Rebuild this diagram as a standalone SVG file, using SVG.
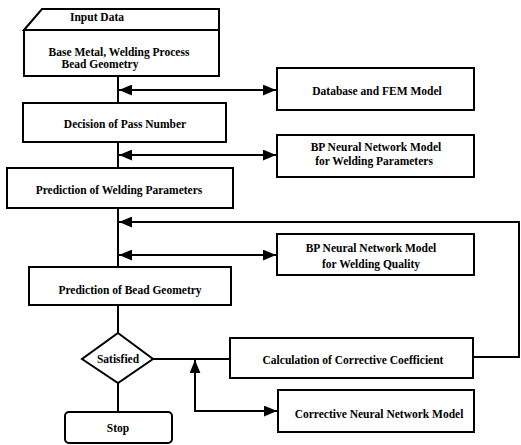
<svg xmlns="http://www.w3.org/2000/svg" width="521" height="445" viewBox="0 0 521 445">
<style>
.box{fill:#fff;stroke:#000;stroke-width:2}
.ln{fill:none;stroke:#000;stroke-width:2}
.t{font-weight:bold;font-size:11.5px;fill:#000;text-anchor:middle;dominant-baseline:central}
</style>
<defs>
<marker id="ah" viewBox="0 0 12 10" refX="12" refY="5" markerWidth="6.5" markerHeight="5.5" orient="auto-start-reverse" markerUnits="strokeWidth">
<path d="M0,0 L12,5 L0,10 z" fill="#000"/>
</marker>
</defs>
<rect width="521" height="445" fill="#fff"/>
<g id="connectors">
<line class="ln" x1="118" y1="76" x2="118" y2="103"/>
<line class="ln" x1="118" y1="142" x2="118" y2="168"/>
<line class="ln" x1="118" y1="208" x2="118" y2="267"/>
<line class="ln" x1="118" y1="305" x2="118" y2="333"/>
<line class="ln" x1="118" y1="383" x2="118" y2="412"/>
<line class="ln" x1="119" y1="90" x2="276" y2="90" marker-start="url(#ah)" marker-end="url(#ah)"/>
<line class="ln" x1="119" y1="155" x2="276" y2="155" marker-start="url(#ah)" marker-end="url(#ah)"/>
<line class="ln" x1="119" y1="255" x2="276" y2="255" marker-start="url(#ah)" marker-end="url(#ah)"/>
<polyline class="ln" points="473,357 519,357 519,222 119,222" marker-end="url(#ah)"/>
<line class="ln" x1="153" y1="359" x2="230" y2="359"/>
<polyline class="ln" points="195,360 195,411 277,411" marker-start="url(#ah)" marker-end="url(#ah)"/>
</g>
<g font-family="Liberation Serif, Times New Roman, serif">
<g id="input">
<path class="box" d="M24,30 L42,9 L219,9 L219,30 Z"/>
<text class="t" x="97" y="17" font-size="10.5">Input Data</text>
</g>
<g id="base">
<rect class="box" x="24" y="30" width="195" height="46"/>
<text class="t" x="119" y="52">Base Metal, Welding Process</text>
<text class="t" x="100" y="64">Bead Geometry</text>
</g>
<g id="database">
<rect class="box" x="277" y="68" width="197" height="42"/>
<text class="t" x="377" y="91">Database and FEM Model</text>
</g>
<g id="decision">
<rect class="box" x="23" y="103" width="203" height="39"/>
<text class="t" x="125" y="124">Decision of Pass Number</text>
</g>
<g id="bp-params">
<rect class="box" x="277" y="135" width="197" height="42"/>
<text class="t" x="376" y="147">BP Neural Network Model</text>
<text class="t" x="374" y="161">for Welding Parameters</text>
</g>
<g id="pred-params">
<rect class="box" x="7" y="168" width="226" height="40"/>
<text class="t" x="119" y="190">Prediction of Welding Parameters</text>
</g>
<g id="bp-quality">
<rect class="box" x="277" y="234" width="197" height="41"/>
<text class="t" x="371" y="248">BP Neural Network Model</text>
<text class="t" x="371" y="264">for Welding Quality</text>
</g>
<g id="pred-bead">
<rect class="box" x="29" y="267" width="202" height="38"/>
<text class="t" x="130" y="290">Prediction of Bead Geometry</text>
</g>
<g id="satisfied">
<path class="box" d="M118,333 L153,359 L118,383 L82,359 Z"/>
<text class="t" x="118" y="359">Satisfied</text>
</g>
<g id="stop">
<rect class="box" x="65" y="412" width="107" height="31" rx="4"/>
<text class="t" x="118" y="428">Stop</text>
</g>
<g id="calc">
<rect class="box" x="230" y="338" width="243" height="40"/>
<text class="t" x="353" y="360">Calculation of Corrective Coefficient</text>
</g>
<g id="corrective">
<rect class="box" x="278" y="390" width="196" height="42"/>
<text class="t" x="379" y="414">Corrective Neural Network Model</text>
</g>
</g>
</svg>
